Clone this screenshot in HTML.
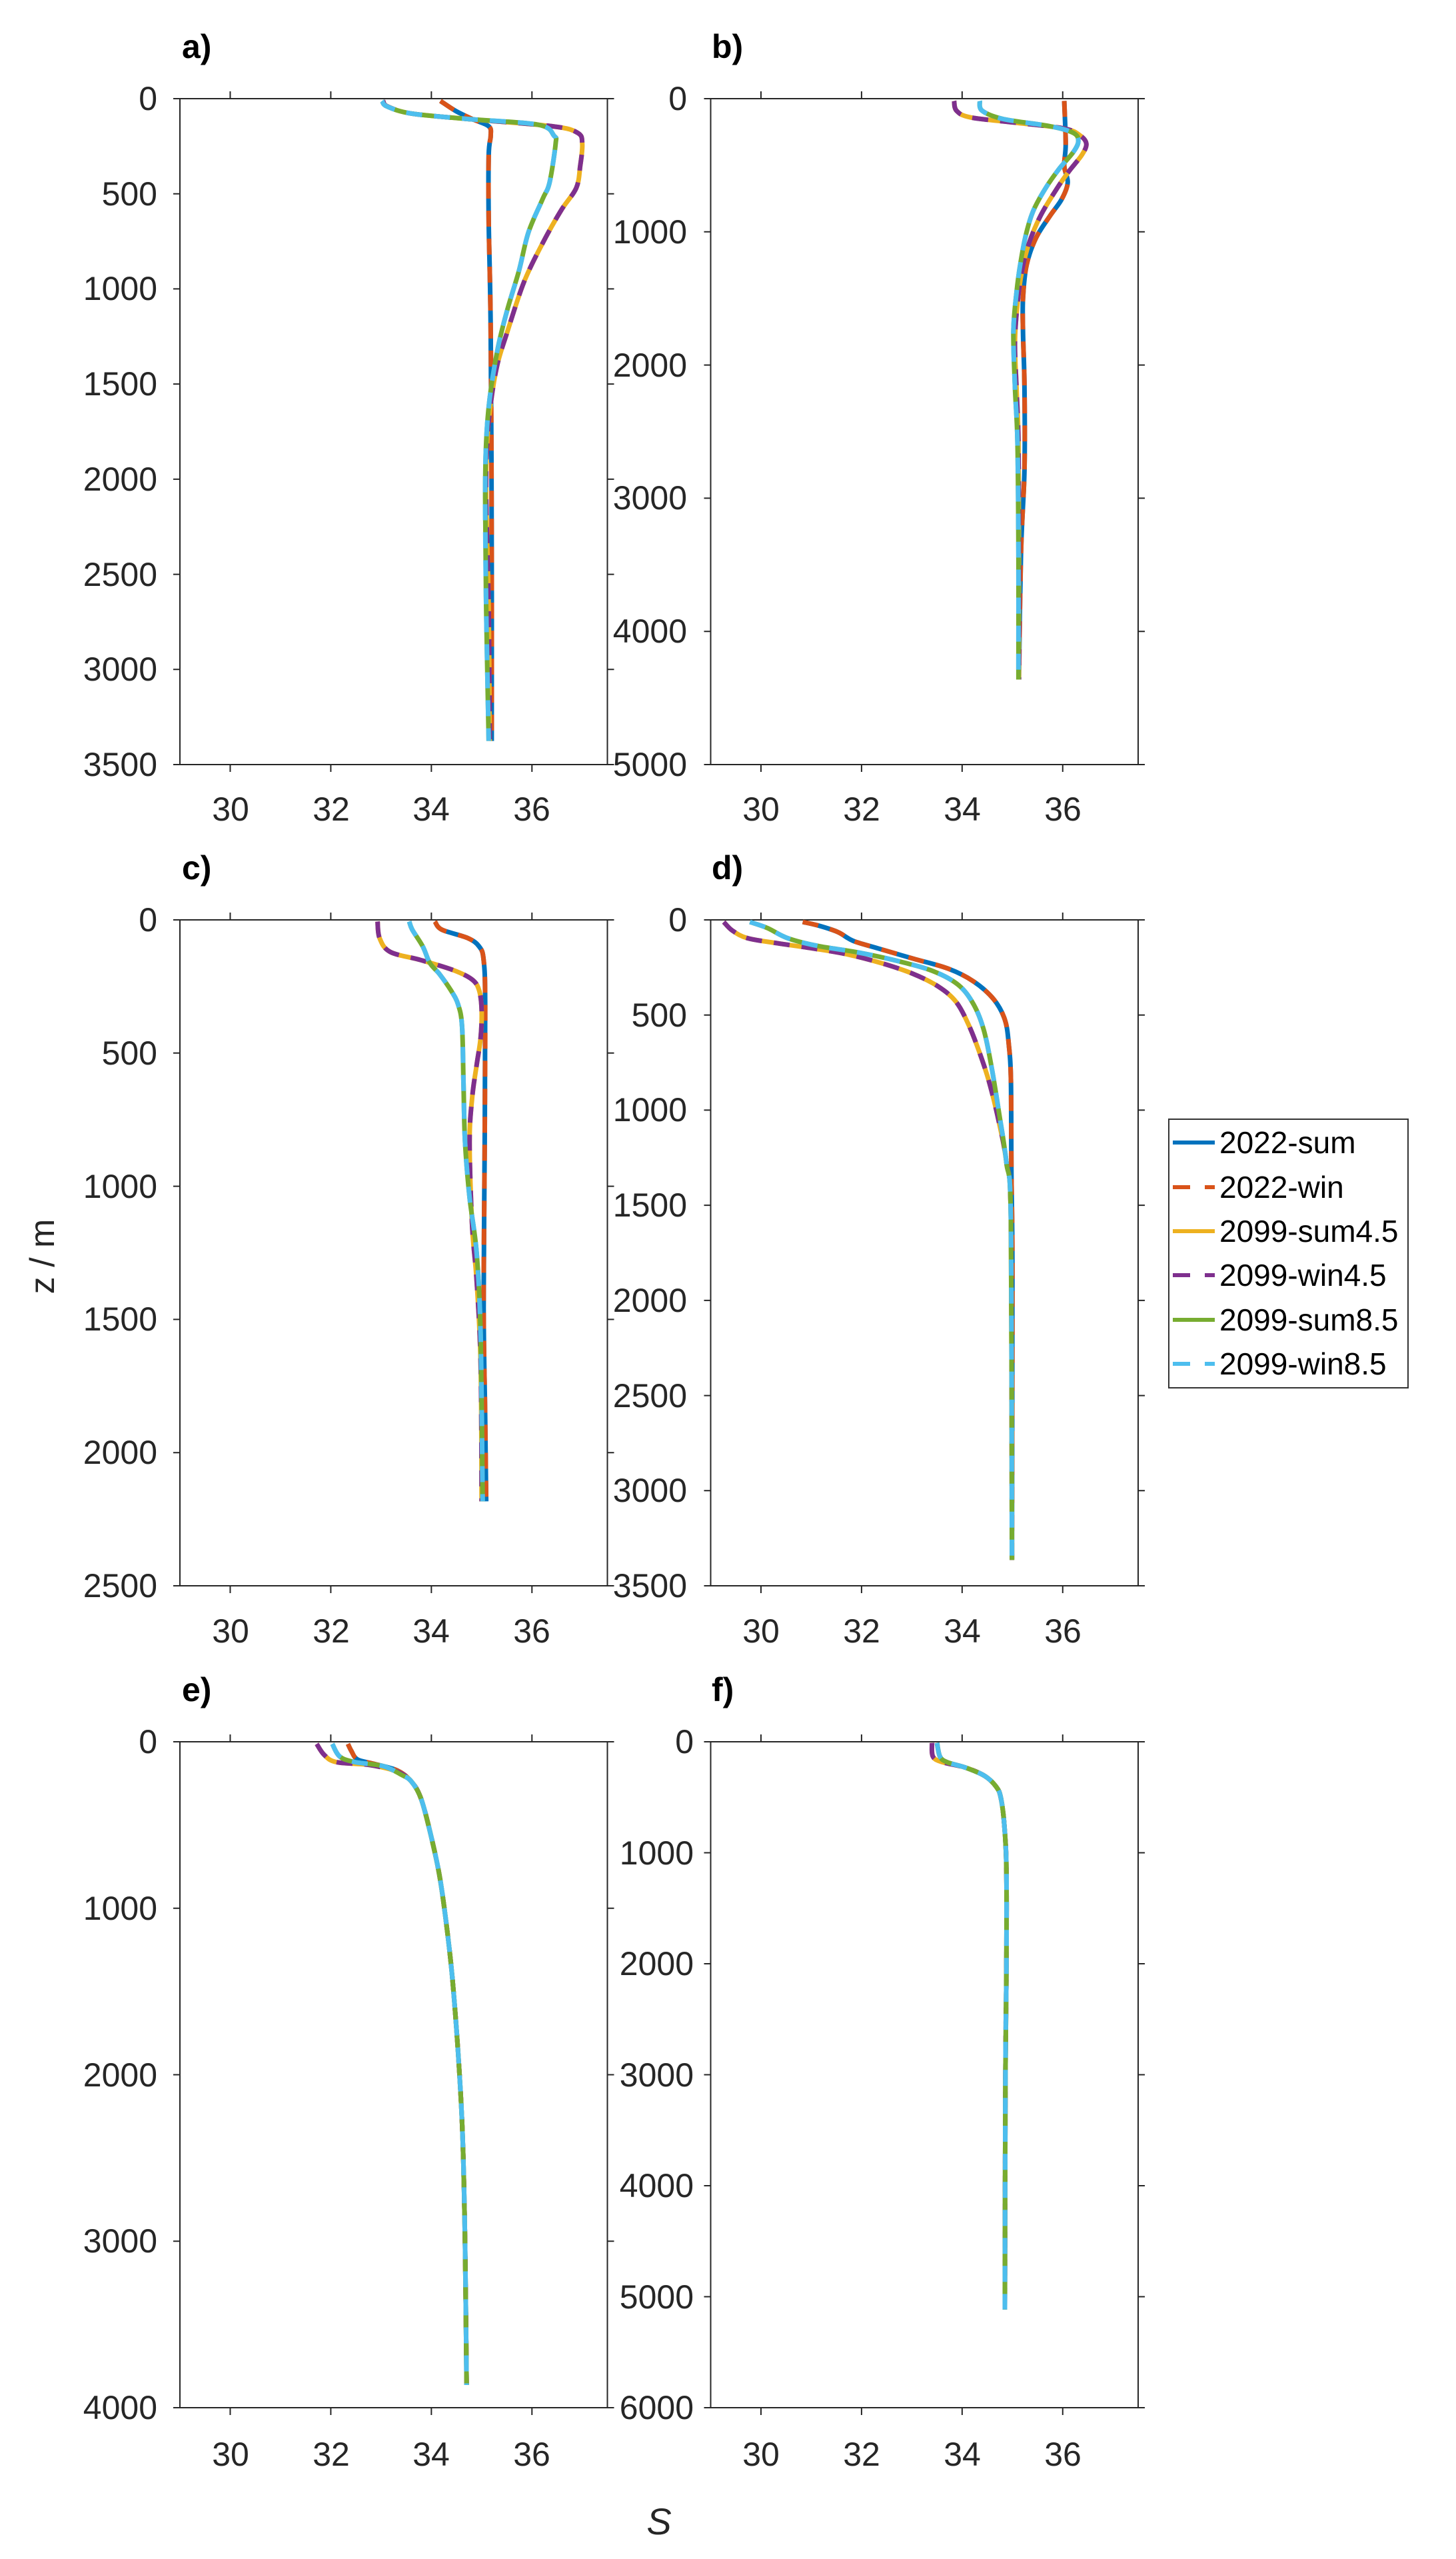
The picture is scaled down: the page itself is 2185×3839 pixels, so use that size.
<!DOCTYPE html>
<html><head><meta charset="utf-8">
<style>
html,body{margin:0;padding:0;background:#fff;}
svg{display:block;}
text{font-family:"Liberation Sans",sans-serif;}
.tk{font-size:50px;fill:#262626;}
.pl{font-size:50px;font-weight:bold;fill:#000;}
.lg{font-size:46px;fill:#000;}
</style></head>
<body>
<svg id="s" width="2185" height="3839" viewBox="0 0 2185 3839" xmlns="http://www.w3.org/2000/svg">
<rect width="2185" height="3839" fill="#fff"/>
<g id="axes"></g>
<g id="data"></g>
<!-- panel labels -->
<text class="pl" x="273" y="87">a)</text>
<text class="pl" x="1068" y="87">b)</text>
<text class="pl" x="273" y="1319">c)</text>
<text class="pl" x="1068" y="1319">d)</text>
<text class="pl" x="273" y="2552">e)</text>
<text class="pl" x="1068" y="2552">f)</text>
<!-- y tick labels -->
<g class="tk" text-anchor="end">
<text x="236" y="165">0</text><text x="236" y="308">500</text><text x="236" y="450">1000</text><text x="236" y="593">1500</text><text x="236" y="736">2000</text><text x="236" y="879">2500</text><text x="236" y="1021">3000</text><text x="236" y="1164">3500</text>
<text x="1031" y="165">0</text><text x="1031" y="365">1000</text><text x="1031" y="565">2000</text><text x="1031" y="764">3000</text><text x="1031" y="964">4000</text><text x="1031" y="1164">5000</text>
<text x="236" y="1397">0</text><text x="236" y="1597">500</text><text x="236" y="1797">1000</text><text x="236" y="1996">1500</text><text x="236" y="2196">2000</text><text x="236" y="2396">2500</text>
<text x="1031" y="1397">0</text><text x="1031" y="1540">500</text><text x="1031" y="1682">1000</text><text x="1031" y="1825">1500</text><text x="1031" y="1968">2000</text><text x="1031" y="2111">2500</text><text x="1031" y="2253">3000</text><text x="1031" y="2396">3500</text>
<text x="236" y="2630">0</text><text x="236" y="2880">1000</text><text x="236" y="3130">2000</text><text x="236" y="3379">3000</text><text x="236" y="3629">4000</text>
<text x="1041" y="2630">0</text><text x="1041" y="2797">1000</text><text x="1041" y="2963">2000</text><text x="1041" y="3130">3000</text><text x="1041" y="3296">4000</text><text x="1041" y="3463">5000</text><text x="1041" y="3629">6000</text>
</g>
<!-- x tick labels -->
<g class="tk" text-anchor="middle">
<text x="346" y="1231">30</text><text x="497" y="1231">32</text><text x="647" y="1231">34</text><text x="798" y="1231">36</text>
<text x="1142" y="1231">30</text><text x="1293" y="1231">32</text><text x="1444" y="1231">34</text><text x="1595" y="1231">36</text>
<text x="346" y="2464">30</text><text x="497" y="2464">32</text><text x="647" y="2464">34</text><text x="798" y="2464">36</text>
<text x="1142" y="2464">30</text><text x="1293" y="2464">32</text><text x="1444" y="2464">34</text><text x="1595" y="2464">36</text>
<text x="346" y="3699">30</text><text x="497" y="3699">32</text><text x="647" y="3699">34</text><text x="798" y="3699">36</text>
<text x="1142" y="3699">30</text><text x="1293" y="3699">32</text><text x="1444" y="3699">34</text><text x="1595" y="3699">36</text>
</g>
<text x="0" y="0" font-size="52" fill="#262626" text-anchor="middle" transform="translate(81,1885) rotate(-90)">z / m</text>
<text x="989" y="3802" font-size="56" font-style="italic" fill="#262626" text-anchor="middle">S</text>
<!-- legend -->
<rect x="1754" y="1679" width="359" height="403" fill="#fff" stroke="#333" stroke-width="2"/>
<g stroke-width="6">
<line x1="1760" y1="1714" x2="1823" y2="1714" stroke="#0072BD"/>
<line x1="1760" y1="1781" x2="1823" y2="1781" stroke="#D95319" stroke-dasharray="26 22"/>
<line x1="1760" y1="1847" x2="1823" y2="1847" stroke="#EDB120"/>
<line x1="1760" y1="1913" x2="1823" y2="1913" stroke="#7E2F8E" stroke-dasharray="26 22"/>
<line x1="1760" y1="1980" x2="1823" y2="1980" stroke="#77AC30"/>
<line x1="1760" y1="2046" x2="1823" y2="2046" stroke="#4DBEEE" stroke-dasharray="26 22"/>
</g>
<g class="lg">
<text x="1830" y="1730">2022-sum</text>
<text x="1830" y="1797">2022-win</text>
<text x="1830" y="1863">2099-sum4.5</text>
<text x="1830" y="1929">2099-win4.5</text>
<text x="1830" y="1996">2099-sum8.5</text>
<text x="1830" y="2062">2099-win8.5</text>
</g>
</svg>
<script>
(function(){
var NS="http://www.w3.org/2000/svg";
var W=641.5,H=999;
var P=[{l:270,t:148,z:3500,st:500},{l:1066.5,t:148,z:5000,st:1000},{l:270,t:1380,z:2500,st:500},{l:1066.5,t:1380,z:3500,st:500},{l:270,t:2613,z:4000,st:1000},{l:1066.5,t:2613,z:6000,st:1000}];
var ax=document.getElementById("axes"),dg=document.getElementById("data");
function el(n,a,p){var e=document.createElementNS(NS,n);for(var k in a)e.setAttribute(k,a[k]);p.appendChild(e);return e;}
var d="";
P.forEach(function(p){
 var r=p.l+W,b=p.t+H;
 d+="M"+p.l+" "+p.t+"H"+r+"V"+b+"H"+p.l+"Z";
 for(var z=0;z<=p.z;z+=p.st){var y=p.t+z/p.z*H;d+="M"+(p.l-10)+" "+y+"H"+p.l+"M"+r+" "+y+"H"+(r+10);}
 for(var s=30;s<=36;s+=2){var x=p.l+(s-29)*W/8.5;d+="M"+x+" "+(p.t-11)+"V"+p.t+"M"+x+" "+b+"V"+(b+11);}
});
el("path",{d:d,fill:"none",stroke:"#262626","stroke-width":"2"},ax);
var C=["#0072BD","#D95319","#EDB120","#7E2F8E","#77AC30","#4DBEEE"];
var A=[[34.18,12],[34.48,64],[34.81,107],[35.14,145],[35.18,195],[35.14,296],[35.14,645],[35.18,1226],[35.2,2388],[35.2,3376]];
var A4=[[33.04,12],[33.13,41],[33.6,78],[34.72,107],[36.4,145],[36.91,180],[37.0,238],[36.96,354],[36.88,470],[36.58,587],[36.21,761],[35.84,965],[35.51,1226],[35.31,1400],[35.18,1604],[35.11,1807],[35.09,2097],[35.14,2678],[35.16,3376]];
var A8=[[33.02,12],[33.12,41],[33.6,78],[34.72,107],[36.12,137],[36.44,195],[36.47,238],[36.35,441],[36.21,529],[35.93,703],[35.74,906],[35.51,1110],[35.32,1313],[35.16,1575],[35.09,1807],[35.07,2097],[35.09,2678],[35.14,3376]];
var B=[[36.03,17],[36.06,340],[36.03,506],[36.1,630],[35.98,755],[35.75,879],[35.47,1045],[35.28,1252],[35.21,1501],[35.21,1750],[35.24,2164],[35.24,2786],[35.17,3408],[35.13,4362]];
var B4=[[33.84,17],[33.89,91],[34.17,141],[35.1,182],[36.03,224],[36.35,278],[36.47,340],[36.38,423],[36.12,547],[35.89,672],[35.56,879],[35.33,1086],[35.19,1294],[35.1,1542],[35.05,1833],[35.08,2164],[35.12,2579],[35.13,3408],[35.13,4362]];
var B8=[[34.35,17],[34.4,91],[34.82,153],[35.75,207],[36.21,257],[36.31,319],[36.21,402],[35.93,527],[35.66,672],[35.42,838],[35.28,1003],[35.17,1211],[35.08,1459],[35.02,1750],[35.05,2164],[35.1,2579],[35.12,3408],[35.12,4362]];
var Cc=[[34.07,6],[34.21,37],[34.72,68],[34.95,100],[35.04,151],[35.07,317],[35.06,835],[35.04,1457],[35.07,1872],[35.09,2183]];
var C4=[[32.93,6],[32.97,68],[33.18,120],[33.79,151],[34.44,189],[34.81,224],[34.95,265],[35.0,338],[34.98,442],[34.9,545],[34.81,670],[34.76,835],[34.81,1146],[34.9,1354],[34.98,1665],[35.0,2183]];
var C8=[[33.56,6],[33.62,37],[33.83,100],[33.97,162],[34.16,203],[34.39,265],[34.53,317],[34.61,400],[34.64,628],[34.67,835],[34.76,1043],[34.9,1250],[34.98,1561],[35.02,2183]];
var D=[[30.83,11],[31.13,29],[31.53,64],[31.83,110],[32.33,150],[33.03,204],[33.73,257],[34.23,324],[34.63,418],[34.85,525],[34.93,659],[34.97,846],[34.98,1328],[35.0,1864],[34.99,3364]];
var D4=[[29.26,11],[29.43,56],[29.73,96],[30.33,123],[31.03,150],[31.73,182],[32.43,230],[33.03,284],[33.53,351],[33.88,431],[34.13,552],[34.33,686],[34.53,846],[34.73,1060],[34.88,1275],[34.97,1596],[34.99,3364]];
var D8=[[29.78,11],[30.13,43],[30.53,96],[31.13,137],[31.93,171],[32.73,217],[33.43,270],[33.93,343],[34.23,445],[34.43,578],[34.58,766],[34.73,1007],[34.88,1275],[34.97,1596],[34.99,3364]];
var Et=[[33.6,238],[33.79,338],[33.97,536],[34.16,801],[34.3,1099],[34.42,1430],[34.53,1861],[34.62,2357],[34.67,3020],[34.7,3864]];
var E=[[32.34,13],[32.41,56],[32.53,106],[32.85,132],[33.32,172]].concat(Et);
var E4=[[31.72,13],[31.87,79],[32.11,122],[32.76,139],[33.32,179]].concat(Et);
var E8=[[32.03,13],[32.18,89],[32.48,122],[33.04,146],[33.41,199]].concat(Et);
var Ft=[[34.07,233],[34.45,308],[34.68,407],[34.77,507],[34.84,755],[34.88,1152],[34.88,2046],[34.86,3040],[34.85,5116]];
var F=[[33.5,10],[33.56,134],[33.7,184]].concat(Ft);
var F4=[[33.4,10],[33.42,134],[33.61,184]].concat(Ft);
var S=[[A,A,A4,A4,A8,A8],[B,B,B4,B4,B8,B8],[Cc,Cc,C4,C4,C8,C8],[D,D,D4,D4,D8,D8],[E,E,E4,E4,E8,E8],[F,F,F4,F4,F,F]];
function path(pts,p){
 var q=pts.map(function(a){return [p.l+(a[0]-29)*W/8.5,p.t+a[1]/p.z*H];});
 var s="M"+q[0][0].toFixed(1)+" "+q[0][1].toFixed(1);
 for(var i=0;i<q.length-1;i++){
  var p0=q[i-1]||q[i],p1=q[i],p2=q[i+1],p3=q[i+2]||p2;
  var c1=[p1[0]+(p2[0]-p0[0])/6,p1[1]+(p2[1]-p0[1])/6],c2=[p2[0]-(p3[0]-p1[0])/6,p2[1]-(p3[1]-p1[1])/6];
  s+="C"+c1[0].toFixed(1)+" "+c1[1].toFixed(1)+" "+c2[0].toFixed(1)+" "+c2[1].toFixed(1)+" "+p2[0].toFixed(1)+" "+p2[1].toFixed(1);
 }
 return s;
}
P.forEach(function(p,i){
 for(var k=0;k<6;k++){
  var a={d:path(S[i][k],p),fill:"none",stroke:C[k],"stroke-width":"7","stroke-linejoin":"round"};
  if(k%2==1)a["stroke-dasharray"]="24 18";
  el("path",a,dg);
 }
});
})();
</script>
</body></html>
